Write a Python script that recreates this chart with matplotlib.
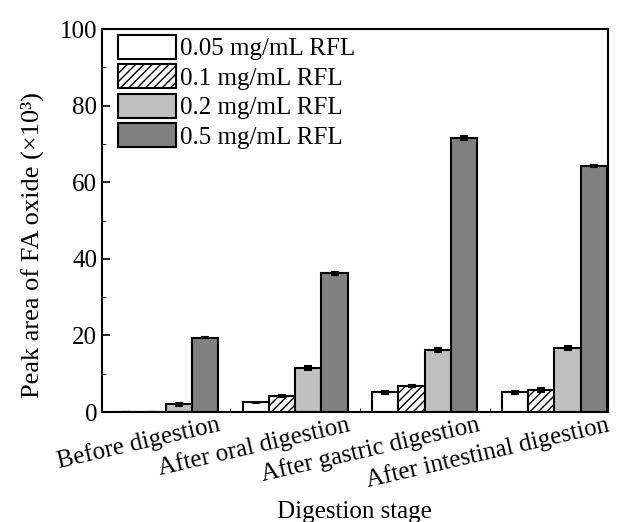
import numpy as np
import matplotlib.pyplot as plt
import matplotlib.transforms as mtransforms

plt.rcParams['font.family'] = ['Liberation Serif', 'DejaVu Serif']
plt.rcParams['hatch.linewidth'] = 1.0

stages = ['Before digestion', 'After oral digestion', 'After gastric digestion',
          'After intestinal digestion']
labels = ['0.05 mg/mL RFL', '0.1 mg/mL RFL', '0.2 mg/mL RFL', '0.5 mg/mL RFL']
c005 = [0.0, 2.5, 5.1, 5.1]
c01 = [0.0, 4.1, 6.8, 5.8]
c02 = [2.0, 11.5, 16.2, 16.8]
c05 = [19.4, 36.2, 71.6, 64.2]
e005 = [0.0, 0.2, 0.5, 0.3]
e01 = [0.0, 0.3, 0.3, 0.5]
e02 = [0.3, 0.4, 0.5, 0.5]
e05 = [0.2, 0.4, 0.5, 0.3]

colors = ['white', 'white', '#c0c0c0', '#808080']
hatches = ['', '////', '', '']

fig = plt.figure(figsize=(6.22, 5.22), dpi=100)
ax = fig.add_axes([0.164, 0.2107, 0.8127, 0.7337])

x = np.arange(len(stages))
w = 0.203
series = [c005, c01, c02, c05]
errs = [e005, e01, e02, e05]
for i in range(4):
    pos = x + (i - 1.5) * w
    ax.bar(pos, series[i], w, color=colors[i], edgecolor='black', linewidth=1.5,
           hatch=hatches[i], label=labels[i],
           yerr=errs[i], error_kw=dict(ecolor='black', elinewidth=1.5, capsize=3, capthick=1.5))

ax.set_xlim(-0.49, 3.41)
ax.set_ylim(0, 100)
ax.set_yticks([0, 20, 40, 60, 80, 100])
ax.set_yticks([10, 30, 50, 70, 90], minor=True)
ax.set_xticks(x)
ax.set_xticks([0.5, 1.5, 2.5], minor=True)
ax.set_xticklabels(stages, rotation=13, ha='right', va='top', rotation_mode='anchor', fontsize=18)
ax.tick_params(direction='in', labelsize=18, width=1.2, length=6)
ax.tick_params(axis='x', pad=1)
ax.tick_params(which='minor', direction='in', length=3)
ax.tick_params(axis='y', which='both', right=False)
# shift x tick labels so their right end sits at the end of each group
shift = mtransforms.ScaledTranslation(0.52, 0, fig.dpi_scale_trans)
for lab in ax.get_xticklabels():
    lab.set_transform(lab.get_transform() + shift)
for s in ax.spines.values():
    s.set_linewidth(1.5)

ax.set_xlabel('Digestion stage', fontsize=18, va='top')
ax.xaxis.set_label_coords(0.5, -0.232)
ax.set_ylabel('Peak area of FA oxide (×10³)', fontsize=19)
ax.yaxis.set_label_coords(-0.114, 0.436)

ax.legend(loc='upper left', bbox_to_anchor=(0.032, 0.985), frameon=False, fontsize=18,
          handlelength=2.3, handleheight=1.12, labelspacing=0.15, handletextpad=0.16,
          borderaxespad=0.0, borderpad=0.0)

fig.savefig('out.png', dpi=100)
